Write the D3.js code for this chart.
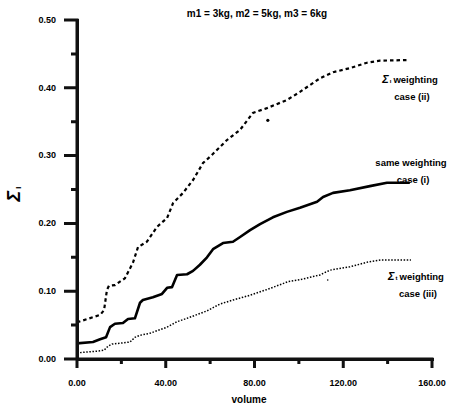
<!DOCTYPE html>
<html>
<head>
<meta charset="utf-8">
<script src="https://cdn.jsdelivr.net/npm/d3@7"></script>
<style>
  body { margin: 0; background: #fff; }
  #chart { position: relative; width: 458px; height: 409px; }
  text { font-family: "Liberation Sans", Arial, sans-serif; font-weight: bold; fill: #000; }
</style>
</head>
<body>
<div id="chart"></div>
<script>
// values
var xTicks = [0, 40, 80, 120, 160];
var xMinor = [20, 60, 100, 140];
var yTicks = [0, 0.1, 0.2, 0.3, 0.4, 0.5];
var yMinor = [0.05, 0.15, 0.25, 0.35, 0.45];

// case (ii) - sigma i weighting (dashed)
var caseII = [
  [0, 0.054], [10.4, 0.065], [12.2, 0.072], [13.5, 0.102], [14.4, 0.108], [17.1, 0.109],
  [21.6, 0.119], [25.2, 0.142], [27.5, 0.165], [31.5, 0.173], [36.1, 0.195], [40.6, 0.208],
  [43.3, 0.230], [47.8, 0.245], [52.3, 0.264], [56.8, 0.289], [60.8, 0.301], [67.6, 0.323],
  [73.5, 0.338], [79.3, 0.363], [85.6, 0.370], [94.6, 0.382], [100.5, 0.394], [109.5, 0.414],
  [115.4, 0.423], [123.0, 0.429], [130.7, 0.437], [136.5, 0.440], [149.2, 0.441]
];
// case (i) - same weighting (solid)
var caseI = [
  [0, 0.023], [7.2, 0.025], [10.4, 0.029], [13.1, 0.032], [14.9, 0.047], [17.1, 0.052],
  [20.7, 0.053], [23.0, 0.059], [26.1, 0.060], [28.4, 0.083], [29.7, 0.087], [34.2, 0.091],
  [38.3, 0.096], [40.6, 0.105], [42.8, 0.106], [45.1, 0.124], [49.6, 0.125], [52.3, 0.130],
  [55.4, 0.139], [58.6, 0.150], [61.3, 0.162], [65.8, 0.171], [70.3, 0.173], [73.5, 0.180],
  [78.0, 0.190], [82.5, 0.199], [88.3, 0.209], [94.6, 0.217], [100.5, 0.223], [108.2, 0.232],
  [110.9, 0.239], [115.4, 0.245], [123.0, 0.249], [132.0, 0.255], [139.7, 0.260], [150.0, 0.260]
];
// case (iii) - sigma t weighting (dotted)
var caseIII = [
  [0, 0.009], [10.4, 0.012], [12.2, 0.013], [14.0, 0.019], [15.8, 0.022], [23.9, 0.025],
  [26.1, 0.032], [28.4, 0.035], [32.9, 0.038], [40.6, 0.047], [45.1, 0.055], [49.6, 0.060],
  [58.6, 0.071], [64.4, 0.081], [70.3, 0.087], [78.0, 0.094], [86.1, 0.103], [95.1, 0.114],
  [100.5, 0.117], [109.5, 0.124], [114.0, 0.131], [123.0, 0.136], [131.1, 0.143],
  [137.0, 0.146], [150.5, 0.146]
];
// stray specks in the scan
var specks = [[86, 0.352, 1.6], [113, 0.1165, 0.8]];

var margin = {top: 20, right: 26, bottom: 50, left: 77};

var root = d3.select("#chart")
  .append("svg")
    .attr("width", 458)
    .attr("height", 409);

var x = d3.scaleLinear().domain([0, 160]).range([margin.left, margin.left + 355]);
var y = d3.scaleLinear().domain([0, 0.5]).range([margin.top + 339, margin.top]);

var line = d3.line()
    .x(function(d) { return x(d[0]); })
    .y(function(d) { return y(d[1]); });

// axis frame drawn as a filled outline (L shape plus ticks)
var t = 3;
var frame = d3.path();
function bar(x0, y0, w, h) { frame.rect(x0, y0, w, h); }
bar(x(0) - t / 2, y(0.5) - t / 2, t, y(0) - y(0.5) + t);
bar(x(0) - 13, y(0) - t / 2, x(160) - x(0) + 13 + t / 2, t);
yTicks.forEach(function(v) { bar(x(0) - 13, y(v) - t / 2, 13, t); });
yMinor.forEach(function(v) { bar(x(0) - 6, y(v) - t / 2, 6, t); });
xTicks.forEach(function(v) { bar(x(v) - t / 2, y(0), t, 9); });
xMinor.forEach(function(v) { bar(x(v) - t / 2, y(0), t, 5); });
root.append("path")
    .attr("d", frame.toString())
    .attr("fill", "#111")
    .attr("stroke", "none");

// same frame as html borders, in case the svg bars are lost
d3.select("#chart").append("div")
    .style("position", "absolute")
    .style("left", (x(0) - 1.5) + "px")
    .style("top", (y(0.5) - 1.5) + "px")
    .style("width", (x(160) - x(0)) + "px")
    .style("height", (y(0) - y(0.5)) + "px")
    .style("border-left", "3px solid #111")
    .style("border-bottom", "3px solid #111")
    .style("pointer-events", "none");

// curves
root.append("path").datum(caseII)
    .attr("d", line).attr("fill", "none").attr("stroke", "black")
    .attr("stroke-width", 2.2).attr("stroke-dasharray", "3.5,3");
root.append("path").datum(caseI)
    .attr("d", line).attr("fill", "none").attr("stroke", "black")
    .attr("stroke-width", 2.6).attr("stroke-linejoin", "round");
root.append("path").datum(caseIII)
    .attr("d", line).attr("fill", "none").attr("stroke", "black")
    .attr("stroke-width", 1.5).attr("stroke-dasharray", "1.5,1.6");

root.selectAll(".speck").data(specks).enter().append("circle")
    .attr("cx", function(d) { return x(d[0]); })
    .attr("cy", function(d) { return y(d[1]); })
    .attr("r", function(d) { return d[2]; });

// tick labels
root.selectAll(".ylab").data(yTicks).enter().append("text")
    .attr("x", x(0) - 21)
    .attr("y", function(d) { return y(d); })
    .attr("dy", "0.32em")
    .attr("text-anchor", "end")
    .style("font-size", "9px")
    .text(d3.format(".2f"));
root.selectAll(".xlab").data(xTicks).enter().append("text")
    .attr("x", function(d) { return x(d); })
    .attr("y", y(0) + 27)
    .attr("text-anchor", "middle")
    .style("font-size", "9px")
    .text(d3.format(".2f"));

// title and axis labels
root.append("text")
    .attr("x", 257).attr("y", 17)
    .attr("text-anchor", "middle")
    .style("font-size", "10px")
    .text("m1 = 3kg,  m2 = 5kg, m3 = 6kg");

root.append("text")
    .attr("x", 249).attr("y", 403)
    .attr("text-anchor", "middle")
    .style("font-size", "10px")
    .text("volume");

var yl = root.append("text")
    .attr("transform", "translate(20,194) rotate(-90)")
    .attr("text-anchor", "middle");
yl.append("tspan").style("font-size", "18px").style("font-style", "italic").text("Σ");
yl.append("tspan").style("font-size", "9px").attr("dx", 2).attr("dy", 1).text("ı");

// curve annotations
function note(cx, cy, sub, l1, l2) {
  var tx = root.append("text").attr("x", cx).attr("y", cy).attr("text-anchor", "middle")
      .style("font-size", "9.5px");
  if (sub) {
    tx.append("tspan").style("font-style", "italic").style("font-size", "11px").text("Σ");
    tx.append("tspan").style("font-size", "6px").attr("dx", 1).text(sub);
    tx.append("tspan").attr("dx", 2).text(l1);
  } else {
    tx.text(l1);
  }
  root.append("text").attr("x", cx + 2).attr("y", cy + 17).attr("text-anchor", "middle")
      .style("font-size", "9.5px").text(l2);
}
note(410, 83, "ı", "weighting", "case (ii)");
note(411, 166, null, "same weighting", "case (i)");
note(416, 280, "t", "weighting", "case (iii)");
</script>
</body>
</html>
